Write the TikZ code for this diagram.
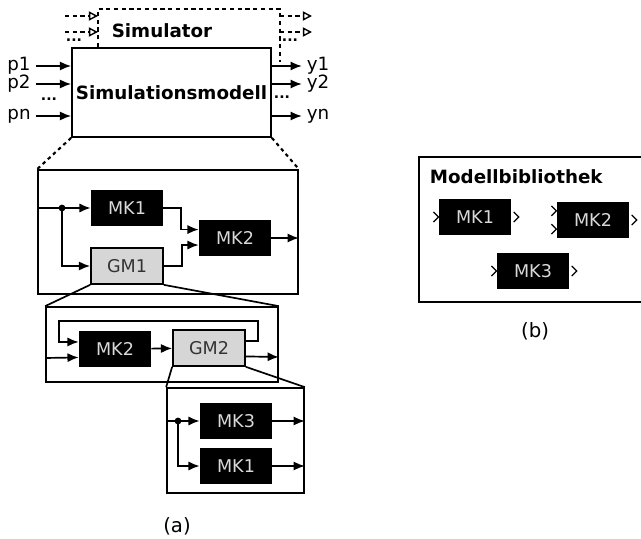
\documentclass[tikz,border=0pt]{standalone}
\usepackage{fontspec}
\setmainfont{DejaVu Sans}
\usetikzlibrary{arrows.meta,fit}

\tikzset{
    block/.style={fill=black, text=black!15, minimum width=1.8cm, minimum height=0.9cm,
        inner sep=0pt, font=\fontsize{12.5}{14}\selectfont},
    gmblock/.style={draw, line width=1.2pt, fill=black!16, text=black!80, minimum width=1.8cm,
        minimum height=0.9cm, inner sep=0pt, font=\fontsize{12.5}{14}\selectfont},
    frame/.style={draw, line width=1.2pt, inner sep=0pt},
    sig/.style={line width=1.2pt, -{Latex[length=8pt,width=6.5pt]}},
    wire/.style={line width=1.2pt},
    simline/.style={line width=1pt, dash pattern=on 3pt off 2.5pt},
    simarrow/.style={line width=1pt, dash pattern=on 3pt off 2.5pt,
        -{Triangle[open,length=6.5pt,width=6.5pt]}},
    zoomline/.style={line width=1.5pt, dash pattern=on 2.5pt off 2.5pt},
    dots/.style={font=\fontsize{10}{10}\selectfont\bfseries, inner sep=0pt},
    lbl/.style={font=\fontsize{13}{15}\selectfont},
    port/.pic={\draw[line width=0.9pt] (-2.5,-5) -- (2.5,0) -- (-2.5,5);}
}

\begin{document}
\begin{tikzpicture}[x=0.025cm, y=-0.025cm]
    \useasboundingbox (0,0) rectangle (641,539);

    % (a) simulator and model
    \node[frame, minimum width=4.975cm, minimum height=2.225cm,
        font=\fontsize{13}{15}\selectfont\bfseries] (model) at (171.5,92.5) {Simulationsmodell};
    \node[font=\fontsize{13}{15}\selectfont\bfseries] (sim) at (162,31) {Simulator};

    \coordinate (simL) at (98,9);
    \coordinate (simR) at (280,9);
    \coordinate (simRb) at (280,62);
    \draw[simline] (simL |- model.north) -- (simL) -- (simR) -- (simRb);

    \coordinate (sinA) at (65,16);
    \coordinate (sinB) at (65,32);
    \coordinate (soutA) at (312,16);
    \coordinate (soutB) at (312,32);
    \draw[simarrow] (sinA) -- (sinA -| simL);
    \draw[simarrow] (sinB) -- (sinB -| simL);
    \draw[simarrow] (soutA -| simR) -- (soutA);
    \draw[simarrow] (soutB -| simR) -- (soutB);
    \node[dots] (sdotsL) at (74,40) {...};
    \node[dots] (sdotsR) at (290,40) {...};

    \node[lbl] (p1) at (19,66) {p1};
    \node[lbl] (p2) at (19,84) {p2};
    \node[lbl] (pn) at (19,116) {pn};
    \node[dots] (pdots) at (49,99) {...};
    \node[lbl] (y1) at (318,66) {y1};
    \node[lbl] (y2) at (318,84) {y2};
    \node[lbl] (yn) at (318,116) {yn};
    \node[dots] (ydots) at (282,97) {...};

    \draw[sig] (p1) -- (p1 -| model.west);
    \draw[sig] (p2) -- (p2 -| model.west);
    \draw[sig] (pn) -- (pn -| model.west);
    \draw[sig] (y1 -| model.east) -- (y1);
    \draw[sig] (y2 -| model.east) -- (y2);
    \draw[sig] (yn -| model.east) -- (yn);

    % first level
    \node[frame, fit={(38,170) (298,294)}] (lvlA) {};
    \node[block] (mkA1) at (127,208) {MK1};
    \node[block] (mkA2) at (235,238) {MK2};
    \node[gmblock] (gmA1) at (127,266) {GM1};
    \coordinate (splitA) at (62,208);

    \draw[zoomline] (model.south west) -- (lvlA.north west);
    \draw[zoomline] (model.south east) -- (lvlA.north east);

    \fill (splitA) circle (2.4pt);
    \draw[wire] (lvlA.west |- mkA1) -- (splitA);
    \draw[sig] (splitA) -- (mkA1);
    \draw[sig] (splitA) |- (gmA1);
    \draw[sig] (mkA1.east) -- ++(18,0) |- ([yshift=6pt]mkA2.west);
    \draw[sig] (gmA1.east) -- ++(18,0) |- ([yshift=-5pt]mkA2.west);
    \draw[sig] (mkA2) -- (mkA2 -| lvlA.east);

    % second level
    \node[frame, fit={(46,307) (278,382)}] (lvlB) {};
    \node[block] (mkB2) at (115,349) {MK2};
    \node[gmblock] (gmB2) at (209,348) {GM2};
    \coordinate (loopR) at (258,321);
    \coordinate (loopL) at (59,321);

    \draw[wire] (gmA1.south west) -- (lvlB.north west);
    \draw[wire] (gmA1.south east) -- (lvlB.north east);

    \draw[sig] ([yshift=5pt]gmB2.east) -| (loopR) -- (loopL) |- ([yshift=5pt]mkB2.west);
    \draw[sig] (lvlB.west |- 0,358) -- ([yshift=-6pt]mkB2.west);
    \draw[sig] (mkB2) -- (gmB2);
    \draw[sig] ([yshift=-6pt]gmB2.east) -- (lvlB.east |- 0,357);

    % third level
    \node[frame, fit={(167,388) (304,493)}] (lvlC) {};
    \node[block] (mkC3) at (236,421) {MK3};
    \node[block] (mkC1) at (236,466) {MK1};
    \coordinate (splitC) at (178,421);

    \draw[wire] (gmB2.south west) -- (lvlC.north west);
    \draw[wire] (gmB2.south east) -- (lvlC.north east);

    \fill (splitC) circle (2.4pt);
    \draw[wire] (lvlC.west |- mkC3) -- (splitC);
    \draw[sig] (splitC) -- (mkC3);
    \draw[sig] (splitC) |- (mkC1);
    \draw[sig] (mkC3) -- (mkC3 -| lvlC.east);
    \draw[sig] (mkC1) -- (mkC1 -| lvlC.east);

    \node[font=\fontsize{14}{16}\selectfont] (capA) at (177,526) {(a)};

    % (b) model library
    \node[frame, fit={(419,157) (646,302)}] (lib) {};
    \node[anchor=west, font=\fontsize{13}{15}\selectfont\bfseries] (libtitle) at (425,177) {Modellbibliothek};
    \node[block] (mkL1) at (475,217) {MK1};
    \node[block] (mkL2) at (593,220) {MK2};
    \node[block] (mkL3) at (533,271) {MK3};

    \pic at ([xshift=-2pt]mkL1.west) {port};
    \pic at ([xshift=3.5pt]mkL1.east) {port};
    \pic at ([xshift=-2pt,yshift=6.5pt]mkL2.west) {port};
    \pic at ([xshift=-2pt,yshift=-6.5pt]mkL2.west) {port};
    \pic at ([xshift=3.5pt]mkL2.east) {port};
    \pic at ([xshift=-2pt]mkL3.west) {port};
    \pic at ([xshift=3.5pt]mkL3.east) {port};

    \node[font=\fontsize{14}{16}\selectfont] (capB) at (535,331) {(b)};
\end{tikzpicture}
\end{document}
